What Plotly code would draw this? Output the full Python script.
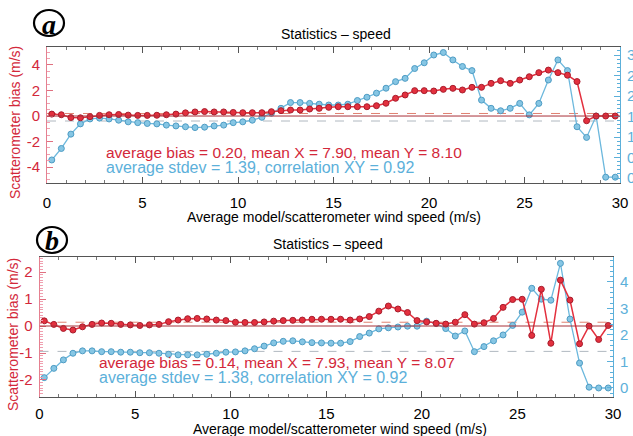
import plotly.graph_objects as go

W, H = 633, 436

# ---------------- data ----------------
speed = [0.25 + 0.5 * i for i in range(60)]

bias_a = [0.15, 0.10, -0.12, -0.14, -0.05, 0.05, 0.10, 0.12, 0.07, 0.05,
          0.05, 0.06, 0.10, 0.15, 0.25, 0.32, 0.35, 0.32, 0.32, 0.28,
          0.26, 0.26, 0.26, 0.34, 0.42, 0.47, 0.47, 0.55, 0.60, 0.68,
          0.73, 0.73, 0.73, 0.73, 0.81, 1.00, 1.39, 1.65, 1.99, 1.99,
          1.96, 2.09, 2.17, 2.04, 2.25, 2.25, 2.56, 2.77, 2.56, 2.82,
          3.08, 3.40, 3.60, 3.40, 3.20, 2.70, -0.37, 0.00, 0.00, 0.00]
stdev_a = [0.44, 0.72, 1.07, 1.32, 1.44, 1.46, 1.44, 1.41, 1.37, 1.35,
           1.33, 1.32, 1.29, 1.27, 1.25, 1.23, 1.24, 1.27, 1.29, 1.35,
           1.37, 1.41, 1.48, 1.58, 1.70, 1.84, 1.84, 1.82, 1.80, 1.78,
           1.78, 1.80, 1.89, 1.97, 2.07, 2.19, 2.35, 2.43, 2.67, 2.81,
           3.00, 3.06, 2.88, 2.72, 2.62, 1.90, 1.70, 1.64, 1.70, 1.82,
           1.54, 1.82, 2.39, 2.88, 2.62, 1.25, 0.99, 1.51, 0.02, 0.02]

bias_b = [0.19, 0.06, -0.09, -0.15, -0.03, 0.06, 0.11, 0.10, 0.06, 0.04,
          0.02, 0.04, 0.06, 0.16, 0.22, 0.27, 0.28, 0.26, 0.22, 0.20,
          0.14, 0.13, 0.13, 0.15, 0.18, 0.20, 0.21, 0.22, 0.25, 0.25,
          0.25, 0.25, 0.22, 0.26, 0.35, 0.55, 0.74, 0.63, 0.50, 0.20,
          0.15, 0.10, 0.07, 0.14, 0.42, 0.07, 0.12, 0.28, 0.69, 0.98,
          0.99, -0.35, 1.36, -0.64, 1.70, 0.96, -0.66, 0.00, -0.50, 0.02]
stdev_b = [0.39, 0.74, 1.06, 1.31, 1.40, 1.40, 1.37, 1.37, 1.35, 1.35,
           1.33, 1.33, 1.31, 1.27, 1.25, 1.25, 1.25, 1.27, 1.31, 1.35,
           1.36, 1.40, 1.48, 1.58, 1.70, 1.76, 1.78, 1.74, 1.71, 1.70,
           1.69, 1.69, 1.75, 1.94, 2.07, 2.23, 2.27, 2.30, 2.33, 2.33,
           2.52, 2.43, 2.24, 1.96, 2.15, 1.37, 1.56, 1.78, 2.00, 2.36,
           2.86, 3.76, 3.35, 3.31, 4.70, 2.60, 0.94, 0.03, 0.00, 0.00]

avg_bias = [0.20, 0.14]
avg_stdev = [1.39, 1.38]
stats_red = ["average bias = 0.20, mean X = 7.90, mean Y = 8.10",
             "average bias = 0.14, mean X = 7.93, mean Y = 8.07"]
stats_blue = ["average stdev = 1.39, correlation XY = 0.92",
              "average stdev = 1.38, correlation XY = 0.92"]
panel_labels = ["a", "b"]
title_txt = "Statistics \u2013 speed"
xtitle_txt = "Average model/scatterometer wind speed (m/s)"
ytitle_txt = "Scatterometer bias (m/s)"

x_ticks = [0, 5, 10, 15, 20, 25, 30]
left_ticks = [[4, 2, 0, -2, -4], [2, 1, 0, -1, -2]]
right_ticks = [[0, 0.5, 1.0, 1.5, 2.0, 2.5, 3.0], [0, 1, 2, 3, 4]]
right_text = [["0.0", "0.5", "1.0", "1.5", "2.0", "2.5", "3.0"], ["0", "1", "2", "3", "4"]]

# ---------------- style ----------------
RED = "#e3303e"
RED_DARK = "#a81c2c"
RED_TXT = "#d3283a"
BLUE = "#6cb8dd"
BLUE_DARK = "#4e9cc4"
BLUE_TXT = "#5cb0da"
FONT = "Liberation Sans, Arial, sans-serif"

# pixel geometry
px_dom = [(47, 620), (39.5, 613)]
py_dom = [(47, 183), (257, 397)]
left_rng = [[-5.25, 5.41], [-2.63, 2.556]]
right_rng = [[-0.122, 3.195], [-0.34, 4.94]]


def xd(p):
    return p / W


def yd(p):
    return 1 - p / H


fig = go.Figure()
layout = dict(
    width=W, height=H, margin=dict(l=0, r=0, t=0, b=0, autoexpand=False),
    paper_bgcolor="white", plot_bgcolor="white", showlegend=False,
    font=dict(family=FONT, size=14, color="black"),
)
shapes = []
annotations = []

for i in range(2):
    xa = "x" if i == 0 else "x2"
    ys = "y" if i == 0 else "y3"      # stdev (right, base)
    yb = "y2" if i == 0 else "y4"     # bias (left, overlay)
    xkey = "xaxis" if i == 0 else "xaxis2"
    yskey = "yaxis" if i == 0 else "yaxis3"
    ybkey = "yaxis2" if i == 0 else "yaxis4"
    s = stdev_a if i == 0 else stdev_b
    b = bias_a if i == 0 else bias_b

    layout[xkey] = dict(
        domain=[xd(px_dom[i][0]), xd(px_dom[i][1])], range=[0, 30],
        anchor=ys, tickvals=x_ticks, ticks="inside", ticklen=6,
        tickcolor="#555", showline=True, linecolor="#555", linewidth=1,
        mirror="ticks", showgrid=False, zeroline=False, automargin=False,
        tickfont=dict(size=15, color="black"),
        ticklabelstandoff=6 if i == 0 else 3,
        minor=dict(dtick=1, ticks="inside", ticklen=3, tickcolor="#777"),
    )
    layout[yskey] = dict(
        domain=[yd(py_dom[i][1]), yd(py_dom[i][0])], range=right_rng[i],
        anchor=xa, side="right", tickvals=right_ticks[i], ticktext=right_text[i],
        ticks="inside", ticklen=6, tickcolor=BLUE_TXT, showline=True,
        linecolor=BLUE_TXT, linewidth=1, showgrid=False, zeroline=False,
        automargin=False,
        tickfont=dict(size=15, color=BLUE_TXT), ticklabelstandoff=3,
        minor=dict(dtick=0.1 if i == 0 else 0.2, ticks="inside", ticklen=3,
                   tickcolor=BLUE_TXT),
    )
    layout[ybkey] = dict(
        range=left_rng[i], overlaying=ys, anchor=xa, side="left",
        tickvals=left_ticks[i], ticktext=[str(v) for v in left_ticks[i]],
        ticks="inside", ticklen=6, tickcolor="#e07080", showline=True,
        linecolor="#e58090", linewidth=1, showgrid=False, zeroline=False,
        automargin=False,
        tickfont=dict(size=15, color=RED_TXT), ticklabelstandoff=3,
        minor=dict(dtick=0.5 if i == 0 else 0.1, ticks="inside", ticklen=3,
                   tickcolor="#f0a0b0"),
    )

    # stdev (blue) first, bias (red) drawn on top via overlay axis
    fig.add_trace(go.Scatter(
        x=speed, y=s, xaxis=xa, yaxis=ys, mode="lines+markers",
        line=dict(color=BLUE, width=1.3),
        marker=dict(size=6, color="#86c6e4", line=dict(color=BLUE_DARK, width=1)),
    ))
    fig.add_trace(go.Scatter(
        x=speed, y=b, xaxis=xa, yaxis=yb, mode="lines+markers",
        line=dict(color=RED, width=1.5),
        marker=dict(size=6, color=RED, line=dict(color=RED_DARK, width=1)),
    ))

    # reference lines
    shapes.append(dict(type="line", xref=xa, yref=yb, x0=0, x1=30, y0=0, y1=0,
                       line=dict(color="#a83038", width=1), layer="above"))
    shapes.append(dict(type="line", xref=xa, yref=yb, x0=0, x1=30,
                       y0=avg_bias[i], y1=avg_bias[i],
                       line=dict(color="#e08070", width=1, dash="dash"), layer="below"))
    shapes.append(dict(type="line", xref=xa, yref=ys, x0=0, x1=30,
                       y0=avg_stdev[i], y1=avg_stdev[i],
                       line=dict(color="#b0b8c0", width=1, dash="dash"), layer="below"))

    # texts
    top = py_dom[i][0]
    cx = (px_dom[i][0] + px_dom[i][1]) / 2
    annotations.append(dict(text=title_txt, x=xd(cx + 2), y=yd(top - 13),
                            xref="paper", yref="paper", showarrow=False,
                            xanchor="center", yanchor="middle",
                            font=dict(size=14, color="black")))
    annotations.append(dict(text=xtitle_txt, x=xd(cx + (0 if i == 0 else 14)),
                            y=yd(py_dom[i][1] + (34 if i == 0 else 32)),
                            xref="paper", yref="paper", showarrow=False,
                            xanchor="center", yanchor="middle",
                            font=dict(size=14, color="black")))
    annotations.append(dict(text=ytitle_txt, x=xd(15 if i == 0 else 13),
                            y=yd((top + py_dom[i][1]) / 2 + 8),
                            xref="paper", yref="paper", showarrow=False, textangle=-90,
                            xanchor="center", yanchor="middle",
                            font=dict(size=14, color=RED_TXT)))
    tx = 104 if i == 0 else 97
    ty = 152 if i == 0 else 362
    annotations.append(dict(text=stats_red[i], x=xd(tx), y=yd(ty),
                            xref="paper", yref="paper", showarrow=False,
                            xanchor="left", yanchor="middle",
                            font=dict(size=15.5, color=RED_TXT)))
    annotations.append(dict(text=stats_blue[i], x=xd(tx), y=yd(ty + 15.5),
                            xref="paper", yref="paper", showarrow=False,
                            xanchor="left", yanchor="middle",
                            font=dict(size=16, color=BLUE_TXT)))
    # circled panel letter
    lcx, lcy = (49, 23) if i == 0 else (52, 240)
    shapes.append(dict(type="circle", xref="paper", yref="paper",
                       x0=xd(lcx - 15), x1=xd(lcx + 15), y0=yd(lcy + 13), y1=yd(lcy - 13),
                       line=dict(color="black", width=2.2)))
    annotations.append(dict(text="<b><i>%s</i></b>" % panel_labels[i],
                            x=xd(lcx), y=yd(lcy + 1), xref="paper", yref="paper",
                            showarrow=False, xanchor="center", yanchor="middle",
                            font=dict(size=28, family="Liberation Serif, Times New Roman, serif",
                                      color="black")))

layout["shapes"] = shapes
layout["annotations"] = annotations
fig.update_layout(**layout)
fig.write_html("out.html")
